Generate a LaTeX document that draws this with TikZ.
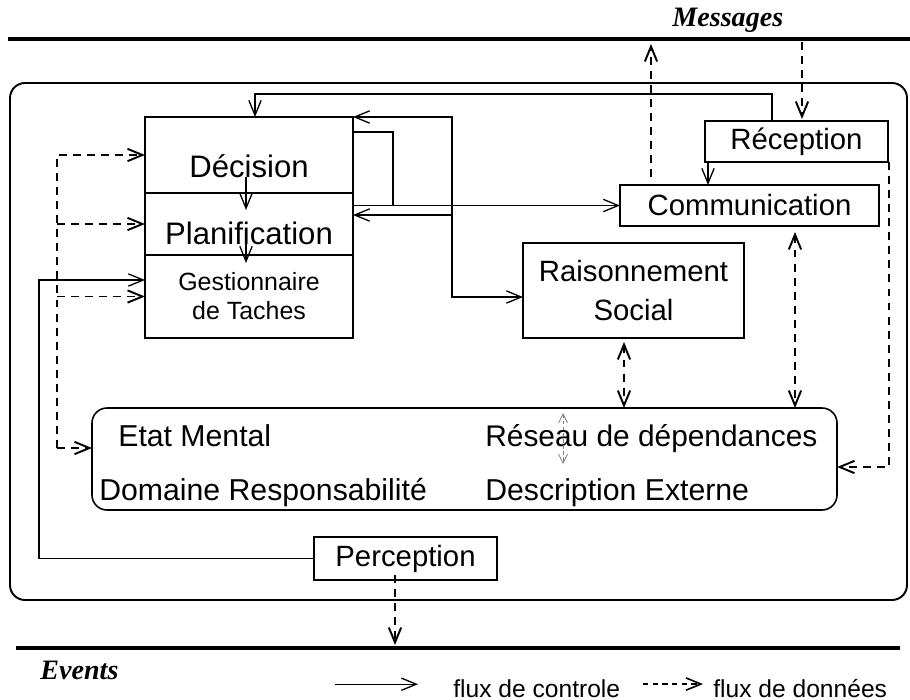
\documentclass[tikz,border=0pt]{standalone}
\usepackage{fontspec}
\setmainfont{Liberation Sans}
\newfontfamily\titrefont{Liberation Serif}
\usetikzlibrary{arrows.meta,calc}
\newcommand{\pas}{0.02cm}
\tikzset{
bloc/.style={draw,line width=0.9pt,inner sep=0pt,outer sep=0pt,font=\fontsize{16.7}{20}\selectfont},
ctrl/.style={line width=0.75pt},
flux/.style={line width=1.1pt,dash pattern=on 4.5pt off 3.5pt},
fluxfin/.style={line width=0.5pt,gray,dash pattern=on 2pt off 1.5pt,>={Straight Barb[length=5pt,width=5pt]}},
etat/.style={anchor=base west,inner sep=0pt,font=\fontsize{17.2}{20}\selectfont},
titre/.style={anchor=base west,inner sep=0pt,font=\titrefont\fontsize{16}{18}\selectfont\bfseries\itshape},
legende/.style={anchor=base west,inner sep=0pt,font=\fontsize{14}{16}\selectfont},
>={Straight Barb[length=8.5pt,width=7pt]}
}
\begin{document}
\begin{tikzpicture}[x=\pas,y=-\pas]
\useasboundingbox (0,0) rectangle (910,700);
\draw[line width=2.6pt](8,39)--(910,39);
\draw[line width=2.6pt](16,648)--(900,648);
\draw[line width=1.1pt,rounded corners=0.3cm](10,83) rectangle (907,600);
\node[titre](messages) at (672,26){Messages};
\node[titre](events) at (40,679){Events};

\node[bloc,minimum width=208*\pas,minimum height=76*\pas,font=\fontsize{17.7}{20}\selectfont,text height=26pt,text depth=0pt](dec) at (249,155){Décision};
\node[bloc,minimum width=208*\pas,minimum height=62*\pas,font=\fontsize{17.7}{20}\selectfont,text height=22.9pt,text depth=0pt](plan) at (249,224){Planification};
\node[bloc,minimum width=208*\pas,minimum height=83*\pas,align=center,font=\fontsize{14.2}{16.5}\selectfont](gest) at (249,296.5){Gestionnaire\\de Taches};
\node[bloc,minimum width=183*\pas,minimum height=41*\pas](rec) at (796.5,141.5){Réception};
\node[bloc,minimum width=259*\pas,minimum height=41*\pas](com) at (749.5,205.5){Communication};
\node[bloc,minimum width=221*\pas,minimum height=95*\pas,align=center,font=\fontsize{16.7}{22.7}\selectfont](rais) at (633.5,290.5){Raisonnement\\Social};
\node[bloc,rounded corners=0.3cm,minimum width=745*\pas,minimum height=102*\pas](state) at (464.5,459){};
\node[bloc,minimum width=183*\pas,minimum height=43*\pas](perc) at (405.5,558.5){Perception};

\node[etat](etat) at (118,446){Etat Mental};
\node[etat,font=\fontsize{17}{20}\selectfont](reseau) at (485,446){Réseau de dépendances};
\node[etat](domaine) at (99,500){Domaine Responsabilité};
\node[etat](descr) at (485,500){Description Externe};

\coordinate(haut) at (772,94);
\coordinate(noeud) at (452,215);
\coordinate(coude) at (393,205.5);
\coordinate(gauche) at (39,280);
\coordinate(recpied) at ($(rec.south west)+(3,0)$);
\draw[ctrl,->](rec.north -| haut)--(haut) -| ($(dec.north)+(6,0)$);
\draw[ctrl,->](noeud) |- (dec.north east);
\draw[ctrl,->](noeud)--(noeud -| plan.east);
\draw[ctrl,->](noeud) |- ($(rais.west)+(0,6.5)$);
\draw[ctrl,->]($(dec.east)+(0,-23)$) -| (coude)--(com.west);
\draw[ctrl](plan.east |- coude)--(coude);
\draw[ctrl,->]($(dec.south)+(-3,-16)$)--($(plan.north)+(-3,17)$);
\draw[ctrl,->]($(plan.south)+(-3,-15)$)--($(gest.north)+(-3,8)$);
\draw[ctrl,->](recpied)--(recpied |- com.north);
\draw[ctrl,->](perc.west) -| (gauche)--($(gest.west)+(0,-16.5)$);

\coordinate(bus) at (57,448);
\coordinate(msgA) at (651,44);
\coordinate(msgB) at (802,42);
\coordinate(droite) at (889,467);
\coordinate(v1) at (795,300);
\coordinate(v2) at (624,370);
\coordinate(v3) at (563,438);
\coordinate(evt) at (395,645);
\draw[flux,->](bus) |- (dec.west);
\draw[flux,->](bus |- plan.west)--(plan.west);
\draw[flux,->](bus |- gest.west)--(gest.west);
\draw[flux,->](bus)--(bus -| state.west);
\draw[flux,->]($(com.north -| msgA)+(0,-8)$)--(msgA);
\draw[flux,->](msgB)--($(rec.north -| msgB)+(0,-2)$);
\draw[flux,->](rec.south -| droite)--(droite)--(droite -| state.east);
\draw[flux,<->]($(com.south -| v1)+(0,6)$)--(state.north -| v1);
\draw[flux,<->]($(rais.south -| v2)+(0,4)$)--(state.north -| v2);
\draw[fluxfin,<->]($(v3)+(0,-25)$)--($(v3)+(0,26)$);
\draw[flux,->]($(perc.south -| evt)+(0,-5)$)--(evt);

\node[legende](lctrl) at (453,697){flux de controle};
\node[legende](ldon) at (713,697){flux de données};
\draw[ctrl,->]($(lctrl.west)+(-118,-4)$)--($(lctrl.west)+(-35,-4)$);
\draw[flux,line width=0.9pt,dash pattern=on 3pt off 2.5pt,->]($(ldon.west)+(-70,-4)$)--($(ldon.west)+(-10,-4)$);
\end{tikzpicture}
\end{document}
